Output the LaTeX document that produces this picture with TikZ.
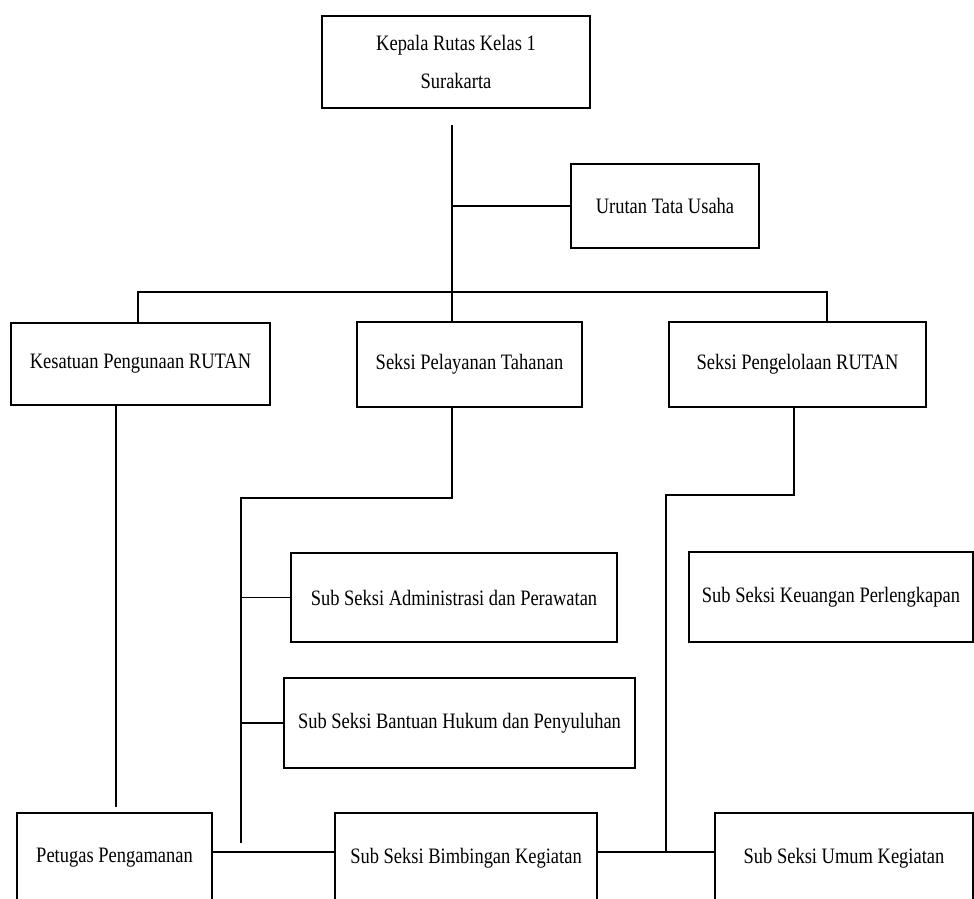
\documentclass[tikz,border=0pt]{standalone}
\usepackage{fontspec}
\setmainfont{Liberation Serif}[FakeStretch=0.84]

\begin{document}
\begin{tikzpicture}[x=1pt, y=-1pt,
    box/.style={draw, line width=1.3pt, inner sep=0pt, align=center,
                font=\fontsize{22}{38}\selectfont},
    wire/.style={line width=1.2pt}]
			\useasboundingbox[fill=white] (0,0) rectangle (974,898);
			\clip (0,0) rectangle (974,898);

			% Draw the boxes
			\node[box, minimum width=268pt, minimum height=92pt] (kepala) at (456,62) {Kepala Rutas Kelas 1\\Surakarta};
			\node[box, minimum width=188pt, minimum height=84pt] (urutan) at (665,206) {Urutan Tata Usaha};

			\node[box, minimum width=259pt, minimum height=82pt] (kesatuan) at (140.5,364) {Kesatuan Pengunaan RUTAN};
			\node[box, minimum width=225pt, minimum height=85pt] (pelayanan) at (469.5,364.5) {Seksi Pelayanan Tahanan};
			\node[box, minimum width=257pt, minimum height=85pt] (pengelolaan) at (797.5,364.5) {Seksi Pengelolaan RUTAN};

			\node[box, minimum width=326pt, minimum height=89pt] (admin) at (454,597.5) {Sub Seksi Administrasi dan Perawatan};
			\node[box, minimum width=284pt, minimum height=90pt] (keuangan) at (831,597) {Sub Seksi Keuangan Perlengkapan};
			\node[box, minimum width=351pt, minimum height=90pt] (bantuan) at (459.5,723) {Sub Seksi Bantuan Hukum dan Penyuluhan};

			\node[box, minimum width=195pt, minimum height=90pt] (petugas) at (114.5,858) {Petugas Pengamanan};
			\node[box, minimum width=262pt, minimum height=90pt] (bimbingan) at (466,858) {Sub Seksi Bimbingan Kegiatan};
			\node[box, minimum width=258pt, minimum height=90pt] (umum) at (844,858) {Sub Seksi Umum Kegiatan};

			% Points where the wires bend
			\coordinate (stem) at (452,125);
			\coordinate (busL) at (138,292);
			\coordinate (busR) at (827,292);
			\coordinate (kesEnd) at (116,807);
			\coordinate (pelA) at (452,498);
			\coordinate (pelB) at (241,498);
			\coordinate (pelEnd) at (241,843);
			\coordinate (pngA) at (794,495);
			\coordinate (pngB) at (666,495);
			\coordinate (row) at (0,852);

			% Draw the wires from the top
			\draw[wire] (stem) -- (stem |- pelayanan.north);
			\draw[wire] (stem |- urutan.west) -- (urutan.west);
			\draw[wire] (kesatuan.north -| busL) -- (busL) -- (busR) -- (busR |- pengelolaan.north);

			% Draw the wires going down
			\draw[wire] (kesEnd |- kesatuan.south) -- (kesEnd);
			\draw[wire] (pelA |- pelayanan.south) -- (pelA) -- (pelB) -- (pelEnd);
			\draw[wire] (pelB |- admin.west) -- (admin.west);
			\draw[wire] (pelB |- bantuan.west) -- (bantuan.west);
			\draw[wire] (pngA |- pengelolaan.south) -- (pngA) -- (pngB) -- (pngB |- row);

			% Draw the wires along the bottom
			\draw[wire] (petugas.east |- row) -- (bimbingan.west |- row);
			\draw[wire] (bimbingan.east |- row) -- (umum.west |- row);

		\end{tikzpicture}
\end{document}
